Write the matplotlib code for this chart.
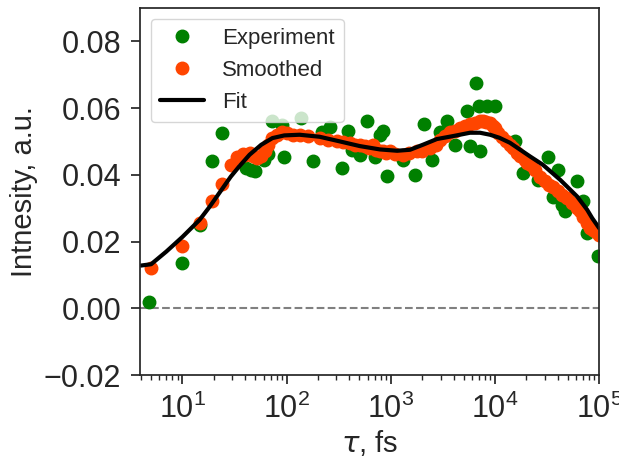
import numpy as np
import matplotlib
matplotlib.use("Agg")
import matplotlib.pyplot as plt
import seaborn as sns

sns.set_style("ticks")
plt.rcParams['font.family'] = ['Liberation Sans', 'DejaVu Sans']

# Experiment (raw) points: delay in fs, intensity in a.u.
exp_t = [4.8, 10, 14.6, 19, 24, 41, 45, 50, 61, 66, 72, 90, 95, 136, 178, 217,
         259, 338, 386, 420, 504, 588, 700, 780, 838, 910, 1300, 1700, 2100,
         2500, 2950, 3470, 4100, 5370, 5750, 6560, 7000, 7180, 8380, 10000,
         15500, 18600, 25800, 32500, 36000, 39800, 44000, 47000, 61400, 70000,
         76000, 97000]
exp_y = [0.002, 0.0135, 0.025, 0.044, 0.0525, 0.042, 0.0415, 0.041, 0.0445,
         0.0463, 0.056, 0.055, 0.0454, 0.057, 0.0442, 0.0527, 0.0544, 0.042,
         0.053, 0.0475, 0.046, 0.056, 0.0454, 0.052, 0.053, 0.0397, 0.0445,
         0.040, 0.0553, 0.0445, 0.0527, 0.056, 0.049, 0.059, 0.0485, 0.0674,
         0.0605, 0.047, 0.0605, 0.0605, 0.050, 0.0406, 0.0385, 0.0454, 0.0334,
         0.0415, 0.031, 0.029, 0.038, 0.032, 0.0226, 0.0157]

# Smoothed points
sm_t = [5, 10, 14.6, 19, 24, 29, 33, 38, 40, 44, 48, 52, 57, 62, 66, 73, 80,
        90, 100, 115, 133, 160, 207, 250, 303, 350, 404, 450, 504, 560, 620,
        671, 720, 780, 838, 900, 978, 1100, 1303, 1500, 1778, 2000, 2371,
        2700, 2958, 3300, 3690, 4100, 4605, 5200, 5750, 6400, 7180, 7700,
        8200, 8960, 9500, 10000, 10800, 11670, 12700, 13930, 15000, 16280,
        17500, 19420, 20300, 22000, 24000, 27100, 30000, 33000, 36100, 40000,
        44000, 49200, 55000, 61400, 66000, 70100, 76000, 81900, 88000, 94000,
        99000]
sm_y = [0.012, 0.0187, 0.0256, 0.032, 0.0373, 0.043, 0.0454, 0.0463, 0.046,
        0.0466, 0.0455, 0.045, 0.0455, 0.047, 0.049, 0.051, 0.052, 0.0527,
        0.0525, 0.052, 0.052, 0.0515, 0.051, 0.0505, 0.050, 0.0497, 0.0496,
        0.049, 0.049, 0.0485, 0.048, 0.049, 0.0475, 0.047, 0.047, 0.0465,
        0.047, 0.0463, 0.046, 0.0465, 0.047, 0.047, 0.048, 0.049, 0.0505,
        0.0515, 0.0527, 0.053, 0.054, 0.0545, 0.0553, 0.0556, 0.056, 0.0562,
        0.0558, 0.0555, 0.0545, 0.054, 0.0525, 0.0514, 0.050, 0.049, 0.048,
        0.0466, 0.0455, 0.0445, 0.0436, 0.043, 0.0415, 0.0394, 0.038, 0.037,
        0.0364, 0.035, 0.034, 0.033, 0.0315, 0.030, 0.029, 0.0274, 0.0255,
        0.024, 0.0235, 0.023, 0.022]

# Fit curve
fit_t = [4, 5, 7, 10, 14.6, 18.2, 23.7, 29, 35, 44, 57, 73, 95, 133, 207,
         324, 504, 785, 1150, 1530, 2030, 2760, 3960, 5750, 7180, 8960,
         11000, 13900, 21700, 28800, 42200, 61400, 76700, 85700, 100000]
fit_y = [0.0128, 0.0132, 0.0170, 0.0214, 0.0265, 0.0304, 0.0355, 0.0394,
         0.0425, 0.0460, 0.0490, 0.0510, 0.0518, 0.0520, 0.0514, 0.0500,
         0.0486, 0.0476, 0.0472, 0.0475, 0.0490, 0.0507, 0.0516, 0.0526,
         0.0526, 0.0520, 0.0511, 0.0496, 0.0455, 0.0430, 0.0385, 0.0335,
         0.0295, 0.0270, 0.0240]

fig = plt.figure(figsize=(6.19, 4.67), dpi=100)
ax = fig.add_axes([0.226, 0.197, 0.742, 0.786])

ax.axhline(0, color='grey', ls='--', lw=1.5)
ax.plot(exp_t, exp_y, 'o', color='green', ms=9, label='Experiment')
ax.plot(sm_t, sm_y, 'o', color='orangered', ms=9, label='Smoothed')
ax.plot(fit_t, fit_y, '-', color='black', lw=3, label='Fit')

ax.set_xscale('log')
ax.set_xlim(3.9, 1e5)
ax.set_ylim(-0.02, 0.09)
ax.set_yticks([-0.02, 0.0, 0.02, 0.04, 0.06, 0.08])
ax.tick_params(which='major', labelsize=22, length=6.5, width=1.25, pad=7)
ax.tick_params(which='minor', length=3.5, width=1.0)
for sp in ax.spines.values():
    sp.set_linewidth(1.25)
ax.set_xlabel(r'$\tau$, fs', fontsize=21, labelpad=2)
ax.set_ylabel('Intnesity, a.u.', fontsize=21)
ax.legend(loc='upper left', fontsize=16, borderaxespad=0.5)

fig.savefig('out.png', dpi=100)
